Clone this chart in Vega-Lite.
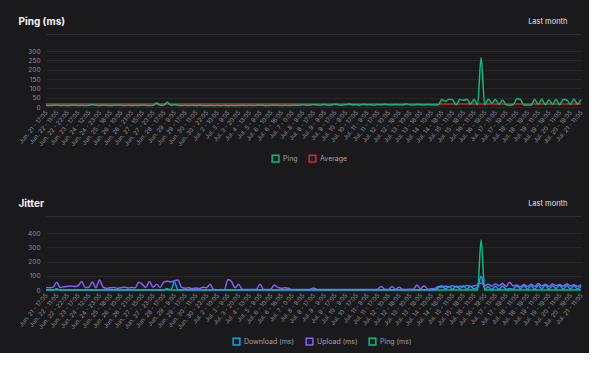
{
"$schema":"https://vega.github.io/schema/vega-lite/v6.json",
"background":"#1a1a1d",
"padding":{"left":17,"top":16,"right":5,"bottom":5},
"config":{"font":"Inter","view":{"stroke":null},
 "axis":{"labelColor":"#8e8e95","labelFont":"Inter","gridColor":"#28282c","gridWidth":1,"domain":false,"ticks":false},
 "legend":{"direction":"horizontal","title":null,"symbolType":"square","symbolSize":45,"symbolStrokeWidth":1.5,"symbolFillColor":"#202024","labelFontSize":7,"labelColor":"#a1a1aa","labelFont":"Inter","columnPadding":8,"labelOffset":3,"padding":0}},
"datasets":{"d":[
{"t":"Jun. 21 - 17:05","p":9,"a":16,"jd":1,"ju":18,"jp":0},
{"t":"Jun. 21 - 23:05","p":8,"a":16,"jd":1,"ju":15,"jp":0},
{"t":"Jun. 22 - 5:05","p":9,"a":16,"jd":2,"ju":20,"jp":0},
{"t":"Jun. 22 - 11:05","p":10,"a":16,"jd":2,"ju":54,"jp":8},
{"t":"Jun. 22 - 15:05","p":8,"a":16,"jd":1,"ju":18,"jp":0},
{"t":"Jun. 22 - 18:05","p":9,"a":16,"jd":1,"ju":22,"jp":0},
{"t":"Jun. 22 - 22:05","p":8,"a":16,"jd":2,"ju":25,"jp":0},
{"t":"Jun. 23 - 5:05","p":9,"a":16,"jd":1,"ju":28,"jp":0},
{"t":"Jun. 23 - 11:05","p":10,"a":16,"jd":1,"ju":24,"jp":0},
{"t":"Jun. 23 - 17:05","p":8,"a":16,"jd":2,"ju":30,"jp":0},
{"t":"Jun. 23 - 23:05","p":9,"a":16,"jd":1,"ju":60,"jp":0},
{"t":"Jun. 24 - 6:05","p":8,"a":16,"jd":1,"ju":18,"jp":0},
{"t":"Jun. 24 - 12:05","p":9,"a":16,"jd":1,"ju":20,"jp":0},
{"t":"Jun. 24 - 16:05","p":12,"a":16,"jd":2,"ju":57,"jp":0},
{"t":"Jun. 24 - 19:05","p":9,"a":16,"jd":1,"ju":15,"jp":0},
{"t":"Jun. 24 - 23:05","p":8,"a":16,"jd":1,"ju":71,"jp":0},
{"t":"Jun. 25 - 6:05","p":10,"a":16,"jd":2,"ju":20,"jp":0},
{"t":"Jun. 25 - 12:05","p":9,"a":16,"jd":1,"ju":12,"jp":0},
{"t":"Jun. 25 - 18:05","p":8,"a":16,"jd":1,"ju":15,"jp":0},
{"t":"Jun. 26 - 0:05","p":9,"a":16,"jd":1,"ju":18,"jp":0},
{"t":"Jun. 26 - 5:05","p":10,"a":16,"jd":2,"ju":12,"jp":0},
{"t":"Jun. 26 - 10:05","p":9,"a":16,"jd":1,"ju":16,"jp":0},
{"t":"Jun. 26 - 14:05","p":8,"a":16,"jd":1,"ju":20,"jp":0},
{"t":"Jun. 26 - 17:05","p":9,"a":16,"jd":1,"ju":14,"jp":0},
{"t":"Jun. 26 - 21:05","p":8,"a":16,"jd":2,"ju":18,"jp":0},
{"t":"Jun. 27 - 3:05","p":9,"a":16,"jd":1,"ju":15,"jp":0},
{"t":"Jun. 27 - 9:05","p":8,"a":16,"jd":1,"ju":55,"jp":0},
{"t":"Jun. 27 - 15:05","p":10,"a":16,"jd":2,"ju":40,"jp":0},
{"t":"Jun. 27 - 18:05","p":9,"a":16,"jd":1,"ju":18,"jp":0},
{"t":"Jun. 27 - 20:05","p":8,"a":16,"jd":1,"ju":60,"jp":0},
{"t":"Jun. 27 - 23:05","p":9,"a":16,"jd":1,"ju":20,"jp":0},
{"t":"Jun. 28 - 5:05","p":22,"a":16,"jd":2,"ju":40,"jp":0},
{"t":"Jun. 28 - 11:05","p":9,"a":16,"jd":1,"ju":18,"jp":0},
{"t":"Jun. 28 - 17:05","p":10,"a":16,"jd":1,"ju":55,"jp":0},
{"t":"Jun. 28 - 22:05","p":25,"a":16,"jd":2,"ju":62,"jp":10},
{"t":"Jun. 29 - 4:05","p":9,"a":16,"jd":1,"ju":58,"jp":0},
{"t":"Jun. 29 - 9:05","p":12,"a":16,"jd":55,"ju":65,"jp":0},
{"t":"Jun. 29 - 12:05","p":9,"a":16,"jd":2,"ju":70,"jp":0},
{"t":"Jun. 29 - 14:05","p":8,"a":16,"jd":1,"ju":18,"jp":0},
{"t":"Jun. 29 - 17:05","p":9,"a":16,"jd":1,"ju":12,"jp":0},
{"t":"Jun. 29 - 23:05","p":8,"a":16,"jd":1,"ju":15,"jp":0},
{"t":"Jun. 30 - 5:05","p":9,"a":16,"jd":1,"ju":10,"jp":0},
{"t":"Jun. 30 - 11:05","p":8,"a":16,"jd":1,"ju":14,"jp":0},
{"t":"Jun. 30 - 15:05","p":9,"a":16,"jd":1,"ju":10,"jp":0},
{"t":"Jun. 30 - 18:05","p":8,"a":16,"jd":1,"ju":20,"jp":0},
{"t":"Jun. 30 - 22:05","p":7,"a":16,"jd":1,"ju":15,"jp":0},
{"t":"Jul. 1 - 10:05","p":8,"a":16,"jd":1,"ju":40,"jp":0},
{"t":"Jul. 1 - 22:05","p":7,"a":16,"jd":1,"ju":3,"jp":0},
{"t":"Jul. 2 - 10:05","p":8,"a":16,"jd":1,"ju":2,"jp":0},
{"t":"Jul. 2 - 18:05","p":7,"a":16,"jd":1,"ju":3,"jp":0},
{"t":"Jul. 3 - 1:05","p":8,"a":16,"jd":1,"ju":2,"jp":0},
{"t":"Jul. 3 - 9:05","p":7,"a":16,"jd":1,"ju":74,"jp":0},
{"t":"Jul. 3 - 13:05","p":8,"a":16,"jd":1,"ju":60,"jp":0},
{"t":"Jul. 3 - 16:05","p":7,"a":16,"jd":1,"ju":15,"jp":0},
{"t":"Jul. 3 - 20:05","p":8,"a":16,"jd":1,"ju":40,"jp":0},
{"t":"Jul. 4 - 2:05","p":9,"a":16,"jd":1,"ju":5,"jp":0},
{"t":"Jul. 4 - 8:05","p":8,"a":16,"jd":1,"ju":3,"jp":0},
{"t":"Jul. 4 - 13:05","p":9,"a":16,"jd":1,"ju":4,"jp":0},
{"t":"Jul. 4 - 20:05","p":8,"a":16,"jd":1,"ju":3,"jp":0},
{"t":"Jul. 5 - 2:05","p":9,"a":16,"jd":1,"ju":5,"jp":0},
{"t":"Jul. 5 - 9:05","p":10,"a":16,"jd":1,"ju":40,"jp":0},
{"t":"Jul. 5 - 17:05","p":9,"a":16,"jd":1,"ju":4,"jp":0},
{"t":"Jul. 6 - 1:05","p":8,"a":16,"jd":1,"ju":3,"jp":0},
{"t":"Jul. 6 - 10:05","p":9,"a":16,"jd":1,"ju":5,"jp":0},
{"t":"Jul. 6 - 12:05","p":10,"a":16,"jd":1,"ju":35,"jp":0},
{"t":"Jul. 6 - 14:05","p":9,"a":16,"jd":1,"ju":18,"jp":0},
{"t":"Jul. 6 - 16:05","p":8,"a":16,"jd":1,"ju":12,"jp":0},
{"t":"Jul. 6 - 19:05","p":9,"a":16,"jd":1,"ju":15,"jp":0},
{"t":"Jul. 6 - 21:05","p":8,"a":16,"jd":1,"ju":12,"jp":0},
{"t":"Jul. 7 - 0:05","p":9,"a":16,"jd":1,"ju":4,"jp":0},
{"t":"Jul. 7 - 11:05","p":10,"a":16,"jd":1,"ju":3,"jp":0},
{"t":"Jul. 7 - 22:05","p":9,"a":16,"jd":1,"ju":4,"jp":0},
{"t":"Jul. 8 - 9:05","p":12,"a":16,"jd":1,"ju":3,"jp":0},
{"t":"Jul. 8 - 12:05","p":10,"a":16,"jd":1,"ju":3,"jp":0},
{"t":"Jul. 8 - 14:05","p":9,"a":16,"jd":1,"ju":4,"jp":0},
{"t":"Jul. 8 - 17:05","p":14,"a":16,"jd":1,"ju":14,"jp":0},
{"t":"Jul. 9 - 0:05","p":11,"a":16,"jd":1,"ju":4,"jp":0},
{"t":"Jul. 9 - 4:05","p":10,"a":16,"jd":1,"ju":3,"jp":0},
{"t":"Jul. 9 - 9:05","p":13,"a":16,"jd":1,"ju":3,"jp":0},
{"t":"Jul. 9 - 12:05","p":10,"a":16,"jd":1,"ju":4,"jp":0},
{"t":"Jul. 9 - 14:05","p":11,"a":16,"jd":1,"ju":3,"jp":0},
{"t":"Jul. 9 - 17:05","p":15,"a":16,"jd":1,"ju":4,"jp":0},
{"t":"Jul. 10 - 0:05","p":11,"a":16,"jd":1,"ju":3,"jp":0},
{"t":"Jul. 10 - 4:05","p":10,"a":16,"jd":1,"ju":3,"jp":0},
{"t":"Jul. 10 - 9:05","p":12,"a":16,"jd":1,"ju":4,"jp":0},
{"t":"Jul. 10 - 12:05","p":16,"a":16,"jd":1,"ju":3,"jp":0},
{"t":"Jul. 10 - 14:05","p":11,"a":16,"jd":1,"ju":4,"jp":0},
{"t":"Jul. 10 - 17:05","p":12,"a":16,"jd":1,"ju":3,"jp":0},
{"t":"Jul. 11 - 0:05","p":10,"a":16,"jd":1,"ju":3,"jp":0},
{"t":"Jul. 11 - 4:05","p":15,"a":16,"jd":1,"ju":4,"jp":0},
{"t":"Jul. 11 - 9:05","p":11,"a":16,"jd":1,"ju":3,"jp":0},
{"t":"Jul. 11 - 12:05","p":12,"a":16,"jd":1,"ju":4,"jp":0},
{"t":"Jul. 11 - 14:05","p":10,"a":16,"jd":1,"ju":3,"jp":0},
{"t":"Jul. 11 - 17:05","p":13,"a":16,"jd":1,"ju":6,"jp":0},
{"t":"Jul. 12 - 0:05","p":11,"a":16,"jd":1,"ju":25,"jp":0},
{"t":"Jul. 12 - 5:05","p":15,"a":16,"jd":1,"ju":5,"jp":0},
{"t":"Jul. 12 - 10:05","p":12,"a":16,"jd":1,"ju":4,"jp":0},
{"t":"Jul. 12 - 13:05","p":11,"a":16,"jd":1,"ju":25,"jp":0},
{"t":"Jul. 12 - 15:05","p":13,"a":16,"jd":1,"ju":5,"jp":0},
{"t":"Jul. 12 - 18:05","p":12,"a":16,"jd":1,"ju":20,"jp":0},
{"t":"Jul. 13 - 1:05","p":11,"a":16,"jd":1,"ju":5,"jp":0},
{"t":"Jul. 13 - 5:05","p":16,"a":16,"jd":1,"ju":4,"jp":0},
{"t":"Jul. 13 - 10:05","p":12,"a":16,"jd":1,"ju":5,"jp":0},
{"t":"Jul. 13 - 13:05","p":11,"a":16,"jd":1,"ju":6,"jp":0},
{"t":"Jul. 13 - 15:05","p":14,"a":16,"jd":2,"ju":35,"jp":0},
{"t":"Jul. 13 - 18:05","p":12,"a":16,"jd":1,"ju":8,"jp":0},
{"t":"Jul. 14 - 1:05","p":11,"a":16,"jd":2,"ju":30,"jp":0},
{"t":"Jul. 14 - 5:05","p":13,"a":16,"jd":1,"ju":6,"jp":0},
{"t":"Jul. 14 - 10:05","p":12,"a":16,"jd":2,"ju":8,"jp":0},
{"t":"Jul. 14 - 13:05","p":11,"a":16,"jd":3,"ju":10,"jp":0},
{"t":"Jul. 14 - 15:05","p":12,"a":16,"jd":15,"ju":25,"jp":0},
{"t":"Jul. 14 - 18:05","p":40,"a":16,"jd":30,"ju":20,"jp":0},
{"t":"Jul. 15 - 1:05","p":30,"a":16,"jd":8,"ju":28,"jp":0},
{"t":"Jul. 15 - 6:05","p":42,"a":16,"jd":25,"ju":22,"jp":0},
{"t":"Jul. 15 - 11:05","p":38,"a":16,"jd":5,"ju":30,"jp":0},
{"t":"Jul. 15 - 13:05","p":12,"a":16,"jd":28,"ju":20,"jp":0},
{"t":"Jul. 15 - 15:05","p":40,"a":16,"jd":10,"ju":26,"jp":0},
{"t":"Jul. 15 - 18:05","p":36,"a":16,"jd":30,"ju":22,"jp":0},
{"t":"Jul. 16 - 1:05","p":42,"a":16,"jd":6,"ju":32,"jp":0},
{"t":"Jul. 16 - 6:05","p":15,"a":16,"jd":26,"ju":24,"jp":0},
{"t":"Jul. 16 - 11:05","p":40,"a":16,"jd":8,"ju":30,"jp":0},
{"t":"Jul. 16 - 14:05","p":12,"a":16,"jd":20,"ju":35,"jp":0},
{"t":"Jul. 16 - 16:05","p":265,"a":16,"jd":97,"ju":50,"jp":352},
{"t":"Jul. 16 - 19:05","p":12,"a":16,"jd":5,"ju":30,"jp":0},
{"t":"Jul. 17 - 2:05","p":42,"a":16,"jd":22,"ju":40,"jp":0},
{"t":"Jul. 17 - 6:05","p":20,"a":16,"jd":4,"ju":28,"jp":0},
{"t":"Jul. 17 - 11:05","p":40,"a":16,"jd":25,"ju":42,"jp":0},
{"t":"Jul. 17 - 14:05","p":14,"a":16,"jd":5,"ju":30,"jp":0},
{"t":"Jul. 17 - 16:05","p":38,"a":16,"jd":28,"ju":45,"jp":0},
{"t":"Jul. 17 - 19:05","p":12,"a":16,"jd":6,"ju":25,"jp":0},
{"t":"Jul. 18 - 2:05","p":10,"a":16,"jd":8,"ju":55,"jp":0},
{"t":"Jul. 18 - 6:05","p":12,"a":16,"jd":5,"ju":28,"jp":0},
{"t":"Jul. 18 - 11:05","p":44,"a":16,"jd":30,"ju":35,"jp":0},
{"t":"Jul. 18 - 14:05","p":40,"a":16,"jd":8,"ju":22,"jp":0},
{"t":"Jul. 18 - 16:05","p":10,"a":16,"jd":32,"ju":38,"jp":0},
{"t":"Jul. 18 - 19:05","p":11,"a":16,"jd":6,"ju":24,"jp":0},
{"t":"Jul. 19 - 2:05","p":10,"a":16,"jd":30,"ju":40,"jp":0},
{"t":"Jul. 19 - 6:05","p":40,"a":16,"jd":5,"ju":26,"jp":0},
{"t":"Jul. 19 - 11:05","p":14,"a":16,"jd":33,"ju":45,"jp":0},
{"t":"Jul. 19 - 14:05","p":42,"a":16,"jd":8,"ju":28,"jp":0},
{"t":"Jul. 19 - 16:05","p":12,"a":16,"jd":35,"ju":40,"jp":0},
{"t":"Jul. 19 - 19:05","p":38,"a":16,"jd":6,"ju":25,"jp":0},
{"t":"Jul. 20 - 2:05","p":15,"a":16,"jd":30,"ju":42,"jp":0},
{"t":"Jul. 20 - 6:05","p":40,"a":16,"jd":10,"ju":30,"jp":0},
{"t":"Jul. 20 - 11:05","p":12,"a":16,"jd":34,"ju":38,"jp":0},
{"t":"Jul. 20 - 14:05","p":40,"a":16,"jd":5,"ju":26,"jp":0},
{"t":"Jul. 20 - 16:05","p":38,"a":16,"jd":32,"ju":44,"jp":0},
{"t":"Jul. 20 - 19:05","p":14,"a":16,"jd":8,"ju":28,"jp":0},
{"t":"Jul. 21 - 2:05","p":42,"a":16,"jd":30,"ju":36,"jp":0},
{"t":"Jul. 21 - 6:05","p":15,"a":16,"jd":6,"ju":24,"jp":0},
{"t":"Jul. 21 - 11:05","p":40,"a":16,"jd":28,"ju":38,"jp":0}
]},
"vconcat":[
{
 "data":{"name":"d"},
 "width":535,"height":56,
 "layer":[
  {"mark":{"type":"line","interpolate":"monotone","strokeWidth":1.5},
   "encoding":{
    "x":{"field":"t","type":"ordinal","sort":null,"scale":{"type":"point","padding":0},"axis":{"orient":"top","title":null,"labels":false,"ticks":false,"grid":false,"domain":true,"domainColor":"#2f2f34","offset":17}},
    "y":{"field":"a","type":"quantitative","scale":{"domain":[0,300],"nice":false},"axis":{"orient":"right","title":"Last month","labels":false,"ticks":false,"grid":false,"domain":false,"titleAngle":0,"titleAlign":"right","titleBaseline":"middle","titleX":-14,"titleY":-30,"titleColor":"#e4e4e7","titleFontSize":7.5,"titleFontWeight":"normal","minExtent":0,"maxExtent":0}},
    "color":{"datum":"Average","type":"nominal","scale":{"domain":["Ping","Average"],"range":["#10b981","#dc2626"]},"legend":{"orient":"none","legendX":225,"legendY":103}}
   }},
  {"mark":{"type":"line","interpolate":"monotone","strokeWidth":1.5},
   "encoding":{
    "x":{"field":"t","type":"ordinal","sort":null,"scale":{"type":"point","padding":0},"axis":{"orient":"bottom","title":null,"labelAngle":-50,"labelAlign":"right","labelBaseline":"middle","labelFontSize":6,"labelPadding":4,"labelOverlap":false,"minExtent":40,"maxExtent":40,"values":["Jun. 21 - 17:05","Jun. 22 - 11:05","Jun. 22 - 22:05","Jun. 23 - 17:05","Jun. 24 - 12:05","Jun. 24 - 23:05","Jun. 25 - 18:05","Jun. 26 - 10:05","Jun. 26 - 21:05","Jun. 27 - 15:05","Jun. 27 - 23:05","Jun. 28 - 17:05","Jun. 29 - 9:05","Jun. 29 - 17:05","Jun. 30 - 11:05","Jun. 30 - 22:05","Jul. 2 - 10:05","Jul. 3 - 9:05","Jul. 3 - 20:05","Jul. 4 - 13:05","Jul. 5 - 9:05","Jul. 6 - 10:05","Jul. 6 - 16:05","Jul. 7 - 0:05","Jul. 8 - 9:05","Jul. 8 - 17:05","Jul. 9 - 9:05","Jul. 9 - 17:05","Jul. 10 - 9:05","Jul. 10 - 17:05","Jul. 11 - 9:05","Jul. 11 - 17:05","Jul. 12 - 10:05","Jul. 12 - 18:05","Jul. 13 - 10:05","Jul. 13 - 18:05","Jul. 14 - 10:05","Jul. 14 - 18:05","Jul. 15 - 11:05","Jul. 15 - 18:05","Jul. 16 - 11:05","Jul. 16 - 19:05","Jul. 17 - 11:05","Jul. 17 - 19:05","Jul. 18 - 11:05","Jul. 18 - 19:05","Jul. 19 - 11:05","Jul. 19 - 19:05","Jul. 20 - 11:05","Jul. 20 - 19:05","Jul. 21 - 11:05"]}},
    "y":{"field":"p","type":"quantitative","scale":{"domain":[0,300],"nice":false},"axis":{"orient":"left","values":[0,50,100,150,200,250,300],"grid":true,"labelFontSize":6.5,"labelPadding":6,"title":"Ping (ms)","titleAngle":0,"titleAlign":"left","titleBaseline":"middle","titleX":-28,"titleY":-30,"titleColor":"#f4f4f5","titleFontSize":10,"titleFontWeight":"bold","minExtent":20,"maxExtent":20}},
    "color":{"datum":"Ping","type":"nominal"}
   }}
 ],
 "resolve":{"axis":{"x":"independent","y":"independent"}}
},
{
 "data":{"name":"d"},
 "width":535,"height":57,
 "layer":[
  {"mark":{"type":"line","interpolate":"monotone","strokeWidth":1.5},
   "encoding":{
    "x":{"field":"t","type":"ordinal","sort":null,"scale":{"type":"point","padding":0},"axis":{"orient":"top","title":null,"labels":false,"ticks":false,"grid":false,"domain":true,"domainColor":"#2f2f34","offset":17}},
    "y":{"field":"jp","type":"quantitative","scale":{"domain":[0,400],"nice":false},"axis":{"orient":"right","title":"Last month","labels":false,"ticks":false,"grid":false,"domain":false,"titleAngle":0,"titleAlign":"right","titleBaseline":"middle","titleX":-14,"titleY":-30,"titleColor":"#e4e4e7","titleFontSize":7.5,"titleFontWeight":"normal","minExtent":0,"maxExtent":0}},
    "color":{"datum":"Ping (ms)","type":"nominal","scale":{"domain":["Download (ms)","Upload (ms)","Ping (ms)"],"range":["#0ea5e9","#8b5cf6","#10b981"]},"legend":{"orient":"none","legendX":186,"legendY":104}}
   }},
  {"mark":{"type":"line","interpolate":"monotone","strokeWidth":1.5},
   "encoding":{
    "x":{"field":"t","type":"ordinal","sort":null,"scale":{"type":"point","padding":0},"axis":null},
    "y":{"field":"ju","type":"quantitative","scale":{"domain":[0,400],"nice":false},"axis":{"orient":"left","values":[0,100,200,300,400],"grid":true,"labelFontSize":6.5,"labelPadding":6,"title":"Jitter","titleAngle":0,"titleAlign":"left","titleBaseline":"middle","titleX":-28,"titleY":-30,"titleColor":"#f4f4f5","titleFontSize":10,"titleFontWeight":"bold","minExtent":20,"maxExtent":20}},
    "color":{"datum":"Upload (ms)","type":"nominal"}
   }},
  {"mark":{"type":"line","interpolate":"monotone","strokeWidth":1.5},
   "encoding":{
    "x":{"field":"t","type":"ordinal","sort":null,"scale":{"type":"point","padding":0},"axis":{"orient":"bottom","title":null,"labelAngle":-50,"labelAlign":"right","labelBaseline":"middle","labelFontSize":6,"labelPadding":4,"labelOverlap":false,"minExtent":40,"maxExtent":40,"values":["Jun. 21 - 17:05","Jun. 22 - 11:05","Jun. 22 - 22:05","Jun. 23 - 17:05","Jun. 24 - 12:05","Jun. 24 - 23:05","Jun. 25 - 18:05","Jun. 26 - 10:05","Jun. 26 - 21:05","Jun. 27 - 15:05","Jun. 27 - 23:05","Jun. 28 - 17:05","Jun. 29 - 9:05","Jun. 29 - 17:05","Jun. 30 - 11:05","Jun. 30 - 22:05","Jul. 2 - 10:05","Jul. 3 - 9:05","Jul. 3 - 20:05","Jul. 4 - 13:05","Jul. 5 - 9:05","Jul. 6 - 10:05","Jul. 6 - 16:05","Jul. 7 - 0:05","Jul. 8 - 9:05","Jul. 8 - 17:05","Jul. 9 - 9:05","Jul. 9 - 17:05","Jul. 10 - 9:05","Jul. 10 - 17:05","Jul. 11 - 9:05","Jul. 11 - 17:05","Jul. 12 - 10:05","Jul. 12 - 18:05","Jul. 13 - 10:05","Jul. 13 - 18:05","Jul. 14 - 10:05","Jul. 14 - 18:05","Jul. 15 - 11:05","Jul. 15 - 18:05","Jul. 16 - 11:05","Jul. 16 - 19:05","Jul. 17 - 11:05","Jul. 17 - 19:05","Jul. 18 - 11:05","Jul. 18 - 19:05","Jul. 19 - 11:05","Jul. 19 - 19:05","Jul. 20 - 11:05","Jul. 20 - 19:05","Jul. 21 - 11:05"]}},
    "y":{"field":"jd","type":"quantitative","scale":{"domain":[0,400],"nice":false},"axis":null},
    "color":{"datum":"Download (ms)","type":"nominal"}
   }}
 ],
 "resolve":{"axis":{"x":"independent","y":"independent"}}
}
],
"spacing":33,
"resolve":{"scale":{"color":"independent"},"legend":{"color":"independent"}}
}
